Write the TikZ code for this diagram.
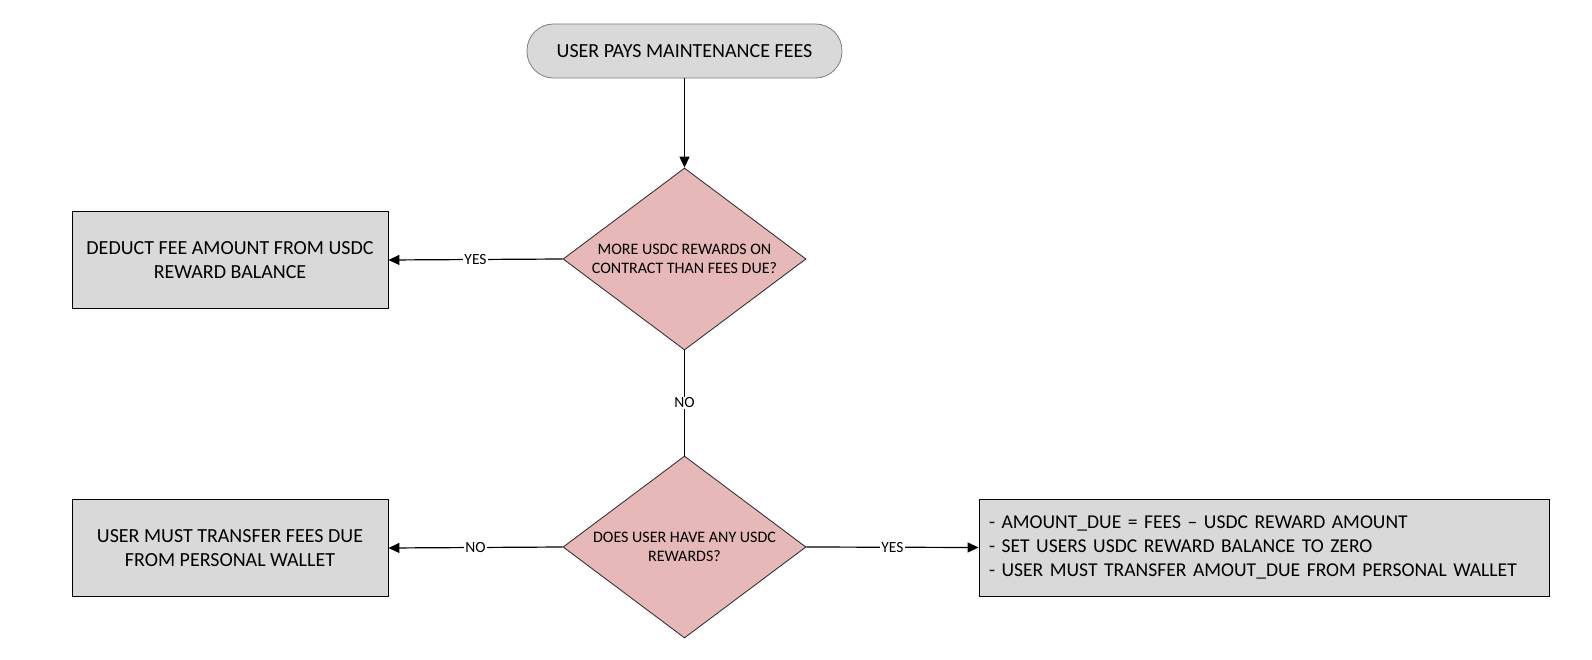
\documentclass[tikz,border=0pt]{standalone}
\usepackage{fontspec}
\setmainfont{Carlito}
\usetikzlibrary{shapes.geometric,arrows.meta}
\definecolor{boxgray}{HTML}{D9D9D9}
\definecolor{termborder}{HTML}{7F7F7F}
\definecolor{diamondpink}{HTML}{E6B8B7}
\begin{document}
\begin{tikzpicture}[x=1pt,y=-1pt,
  term/.style={draw=termborder, line width=0.8pt, fill=boxgray, rounded corners=26.5pt,
    minimum width=315pt, minimum height=54pt, inner sep=0pt,
    font=\fontsize{20}{24}\selectfont},
  procbox/.style={draw=black, line width=0.9pt, fill=boxgray, minimum width=316pt,
    minimum height=97pt, inner sep=0pt, align=center,
    font=\fontsize{20}{23.5}\selectfont},
  decision/.style={diamond, aspect=1.335, draw=black!85, line width=0.8pt, fill=diamondpink,
    minimum width=243pt, minimum height=182pt, inner sep=0pt, align=center,
    font=\fontsize{16}{19.7}\selectfont},
  conn/.style={draw=black, line width=1.2pt},
  flow/.style={conn, -{Triangle[length=11pt,width=10pt]}},
  lbl/.style={fill=white, inner sep=1pt, font=\fontsize{15.5}{18}\selectfont}
]
\useasboundingbox[fill=white] (0,0) rectangle (1592,660);

\node[term] (start) at (684.5,51) {USER PAYS MAINTENANCE FEES};
\node[decision] (d1) at (684.5,259) {MORE USDC REWARDS ON\\CONTRACT THAN FEES DUE?};
\node[procbox] (b1) at (230,260) {DEDUCT FEE AMOUNT FROM USDC\\REWARD BALANCE};
\node[decision] (d2) at (684.5,547) {DOES USER HAVE ANY USDC\\REWARDS?};
\node[procbox] (b2) at (230,548) {USER MUST TRANSFER FEES DUE\\FROM PERSONAL WALLET};
\node[procbox, minimum width=570pt, text width=550pt, align=left,
  font=\fontsize{19.6}{24}\selectfont] (b3) at (1264,547.5)
  {- AMOUNT\_DUE = FEES -- USDC REWARD AMOUNT\\- SET USERS USDC REWARD BALANCE TO ZERO\\- USER MUST TRANSFER AMOUT\_DUE FROM PERSONAL WALLET};

\draw[flow] (start) -- (d1);
\draw[flow] (d1.west) -- node[lbl] {YES} (b1.east);
\draw[conn] (d1.south) -- node[lbl] {NO} (d2.north);
\draw[flow] (d2.west) -- node[lbl] {NO} (b2.east);
\draw[flow] (d2.east) -- node[lbl] {YES} (b3.west);
\end{tikzpicture}
\end{document}
